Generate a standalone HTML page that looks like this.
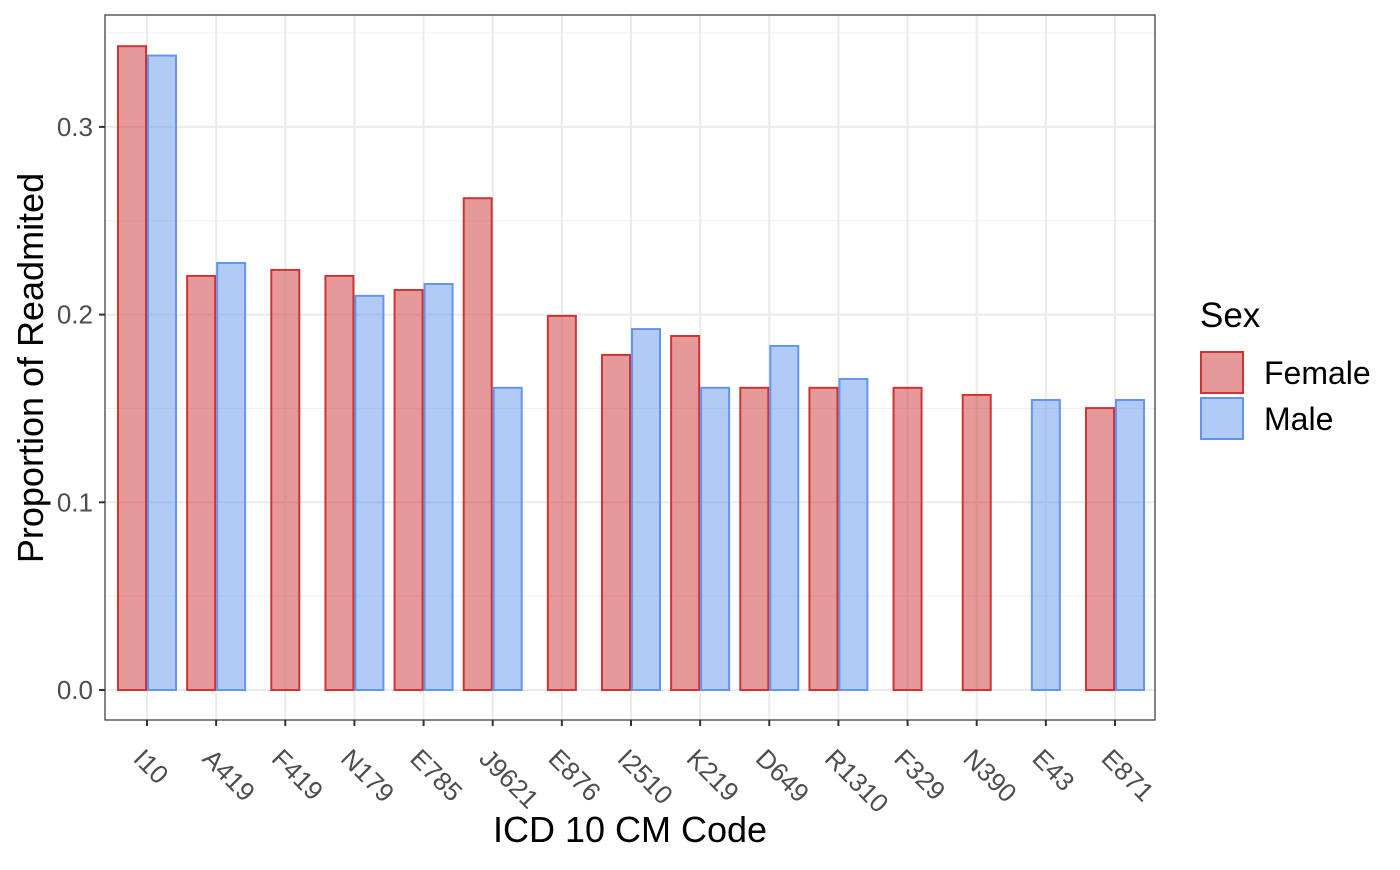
<!DOCTYPE html>
<html><head><meta charset="utf-8"><style>
body{margin:0;background:#fff;position:relative}
svg text{font-family:"Liberation Sans",Arial,sans-serif;}
</style></head><body>
<svg id="chart" width="1400" height="865" xmlns="http://www.w3.org/2000/svg"></svg>
<script>
const categories=["I10","A419","F419","N179","E785","J9621","E876","I2510","K219","D649","R1310","F329","N390","E43","E871"];
const femaleValues=[0.343,0.2206,0.2238,0.2206,0.2131,0.262,0.1993,0.1785,0.1886,0.161,0.161,0.161,0.1572,null,0.1502];
const maleValues=[0.338,0.2275,null,0.21,0.2163,0.161,null,0.1923,0.161,0.1833,0.1657,null,null,0.1545,0.1545];
const yTicks=[0,0.1,0.2,0.3];
const yTickLabels=["0.0","0.1","0.2","0.3"];
const yMinor=[0.05,0.15,0.25,0.35];

const NS="http://www.w3.org/2000/svg";
const svg=document.getElementById('chart');
const L=105,R=1155,T=15,B=720;
const y=v=>690-v*1877;
const x=i=>147+i*(1115-147)/14;
function mk(tag,attrs,parent){const e=document.createElementNS(NS,tag);for(const k in attrs)e.setAttribute(k,attrs[k]);(parent||svg).appendChild(e);return e;}

mk('rect',{x:L,y:T,width:R-L,height:B-T,fill:'#fff'});
yMinor.forEach(v=>{if(y(v)>T){const l=mk('line',{x1:L,x2:R,y1:y(v),y2:y(v),stroke:'#f0f0f0','stroke-width':1});

}});
yTicks.forEach(v=>{const l=mk('line',{x1:L,x2:R,y1:y(v),y2:y(v),stroke:'#ebebeb','stroke-width':2});

});
categories.forEach((c,i)=>{const l=mk('line',{x1:x(i),x2:x(i),y1:T,y2:B,stroke:'#ebebeb','stroke-width':2});

});

const fFill='rgba(205,51,51,0.5)',fStroke='#d03333',mFill='rgba(100,149,237,0.5)',mStroke='#6495ed';
function bar(x0,v,fill,stroke,name){
  const r=mk('rect',{x:x0,y:y(v),width:28,height:y(0)-y(v),fill:fill,stroke:stroke,'stroke-width':2});
  
  
}
categories.forEach((c,i)=>{
  const f=femaleValues[i],m=maleValues[i],cx=x(i);
  if(f!=null&&m!=null){bar(cx-29,f,fFill,fStroke,'bar-female-'+c);bar(cx+1,m,mFill,mStroke,'bar-male-'+c);}
  else if(f!=null)bar(cx-14,f,fFill,fStroke,'bar-female-'+c);
  else if(m!=null)bar(cx-14,m,mFill,mStroke,'bar-male-'+c);
});
const border=mk('rect',{x:L,y:T,width:R-L,height:B-T,fill:'none',stroke:'#333','stroke-width':1.2});



yTicks.forEach((v,i)=>{
  mk('line',{x1:L-6,x2:L,y1:y(v),y2:y(v),stroke:'#333','stroke-width':2});
  const t=mk('text',{x:L-12,y:y(v)+9,'text-anchor':'end','font-size':26,fill:'#4d4d4d'});
  t.textContent=yTickLabels[i];
  
  
});
categories.forEach((c,i)=>{
  mk('line',{x1:x(i),x2:x(i),y1:B,y2:B+6,stroke:'#333','stroke-width':2});
  const t=mk('text',{x:0,y:0,'font-size':26,fill:'#4d4d4d',transform:`translate(${x(i)-15},${B+40}) rotate(45)`});
  t.textContent=c;
  
  
});
</script>
<svg width="1400" height="865" style="position:absolute;left:0;top:0;pointer-events:none" xmlns="http://www.w3.org/2000/svg">
<text x="630" y="842" text-anchor="middle" font-size="36" fill="#000" font-family="Liberation Sans, sans-serif">ICD 10 CM Code</text>
<text transform="translate(43,368) rotate(-90)" text-anchor="middle" font-size="36" fill="#000" font-family="Liberation Sans, sans-serif">Proportion of Readmited</text>
<g>
<text x="1200" y="327" font-size="35" font-family="Liberation Sans, sans-serif">Sex</text>
<rect x="1201" y="352" width="42" height="41" fill="rgba(205,51,51,0.5)" stroke="#d03333" stroke-width="2"/>
<rect x="1201" y="398" width="42" height="41" fill="rgba(100,149,237,0.5)" stroke="#6495ed" stroke-width="2"/>
<text x="1264" y="384" font-size="32" font-family="Liberation Sans, sans-serif">Female</text>
<text x="1264" y="430" font-size="32" font-family="Liberation Sans, sans-serif">Male</text>
</g>
</svg>
</body></html>
